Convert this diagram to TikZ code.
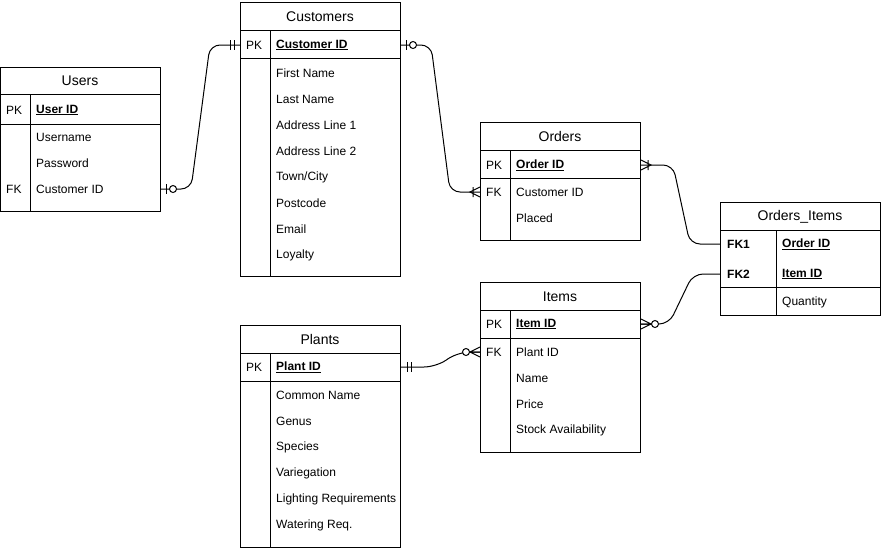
\documentclass[tikz,border=0pt]{standalone}
\usepackage{fontspec}
\setmainfont{Liberation Sans}

\tikzset{
  tbl/.style={draw, line width=1pt, inner sep=0pt, anchor=north west, minimum width=160pt},
  ttl/.style={font=\fontsize{14}{16}\selectfont, yshift=-0.5pt},
  fld/.style={anchor=west, inner sep=0pt, font=\fontsize{12}{14}\selectfont, yshift=-1pt},
  link/.style={line width=1pt, rounded corners=10pt},
  mone/.pic={\draw[line width=1pt] (6,-5) -- (6,5) (10,-5) -- (10,5);},
  zone/.pic={\draw[line width=1pt] (5,-5) -- (5,5);
    \draw[line width=1pt, fill=white] (12,0) circle (3.5pt);},
  omany/.pic={\draw[line width=1pt] (0,-5) -- (10,0) -- (0,5) (7,-5) -- (7,5);},
  zmany/.pic={\draw[line width=1pt] (0,-5) -- (10,0) -- (0,5) (0,0) -- (10,0);
    \draw[line width=1pt, fill=white] (14,0) circle (3.5pt);}
}
\newcommand{\keyf}[1]{\underline{\textbf{#1}}}

\begin{document}
\begin{tikzpicture}[x=1pt,y=-1pt]
\useasboundingbox (0,0) rectangle (882,552);

% Users
\node[tbl, minimum height=144pt] (users) at (0,67) {};
\draw[line width=1pt] (0,94) -- (160,94) (0,124) -- (160,124) (30,94) -- (30,211);
\node[ttl] at (80,80.5) {Users};
\node[fld] at (6,109) {PK};
\node[fld] (u-uid) at (36,109) {\keyf{User ID}};
\node[fld] at (36,136) {Username};
\node[fld] at (36,162) {Password};
\node[fld] at (6,188) {FK};
\node[fld] (u-cid) at (36,188) {Customer ID};

% Customers
\node[tbl, minimum height=274pt] (customers) at (240,2) {};
\draw[line width=1pt] (240,30) -- (400,30) (240,58) -- (400,58) (270,30) -- (270,276);
\node[ttl] at (320,16) {Customers};
\node[fld] at (246,44) {PK};
\node[fld] (c-cid) at (276,44) {\keyf{Customer ID}};
\node[fld] at (276,72) {First Name};
\node[fld] at (276,98) {Last Name};
\node[fld] at (276,124) {Address Line 1};
\node[fld] at (276,150) {Address Line 2};
\node[fld] at (276,176) {Town/City};
\node[fld] at (276,202) {Postcode};
\node[fld] at (276,228) {Email};
\node[fld] at (276,254) {Loyalty};

% Orders
\node[tbl, minimum height=118pt] (orders) at (480,122) {};
\draw[line width=1pt] (480,150) -- (640,150) (480,178) -- (640,178) (510,150) -- (510,240);
\node[ttl] at (560,136) {Orders};
\node[fld] at (486,164) {PK};
\node[fld] (o-oid) at (516,164) {\keyf{Order ID}};
\node[fld] at (486,191) {FK};
\node[fld] (o-cid) at (516,191) {Customer ID};
\node[fld] at (516,217) {Placed};

% Orders_Items
\node[tbl, minimum height=113pt] (oi) at (720,202) {};
\draw[line width=1pt] (720,230) -- (880,230) (720,287) -- (880,287) (776,230) -- (776,315);
\node[ttl] at (800,216) {Orders\_Items};
\node[fld] at (727,243) {\textbf{FK1}};
\node[fld] (oi-oid) at (782,243) {\keyf{Order ID}};
\node[fld] at (727,273) {\textbf{FK2}};
\node[fld] (oi-iid) at (782,273) {\keyf{Item ID}};
\node[fld] at (782,301) {Quantity};

% Items
\node[tbl, minimum height=170pt] (items) at (480,282) {};
\draw[line width=1pt] (480,310) -- (640,310) (480,338) -- (640,338) (510,310) -- (510,452);
\node[ttl] at (560,296) {Items};
\node[fld] at (486,323) {PK};
\node[fld] (i-iid) at (516,323) {\keyf{Item ID}};
\node[fld] at (486,351) {FK};
\node[fld] (i-pid) at (516,351) {Plant ID};
\node[fld] at (516,377) {Name};
\node[fld] at (516,403) {Price};
\node[fld] at (516,429) {Stock Availability};

% Plants
\node[tbl, minimum height=222pt] (plants) at (240,325) {};
\draw[line width=1pt] (240,353) -- (400,353) (240,381) -- (400,381) (270,353) -- (270,547);
\node[ttl] at (320,339) {Plants};
\node[fld] at (246,366) {PK};
\node[fld] (p-pid) at (276,366) {\keyf{Plant ID}};
\node[fld] at (276,394) {Common Name};
\node[fld] at (276,420) {Genus};
\node[fld] at (276,446) {Species};
\node[fld] at (276,472) {Variegation};
\node[fld] at (276,498) {Lighting Requirements};
\node[fld] at (276,524) {Watering Req.};

% relations
\draw[link] (users.east |- u-cid) -- ++(30,0) -- ([xshift=-30pt]customers.west |- c-cid) -- (customers.west |- c-cid);
\draw[link] (customers.east |- c-cid) -- ++(30,0) -- ([xshift=-30pt]orders.west |- o-cid) -- (orders.west |- o-cid);
\draw[link] (orders.east |- o-oid) -- ++(32,0) -- ([xshift=-30pt]oi.west |- oi-oid) -- (oi.west |- oi-oid);
\draw[link] (items.east |- i-iid) -- ++(28,0) -- ([xshift=-27pt]oi.west |- oi-iid) -- (oi.west |- oi-iid);
\draw[link, rounded corners=12pt] (plants.east |- p-pid) -- ++(35,0) -- ([xshift=-22pt]items.west |- i-pid) -- (items.west |- i-pid);

\pic at (users.east |- u-cid) {zone};
\pic[xscale=-1] at (customers.west |- c-cid) {mone};
\pic at (customers.east |- c-cid) {zone};
\pic[xscale=-1] at (orders.west |- o-cid) {omany};
\pic at (orders.east |- o-oid) {omany};
\pic at (items.east |- i-iid) {zmany};
\pic at (plants.east |- p-pid) {mone};
\pic[xscale=-1] at (items.west |- i-pid) {zmany};
\end{tikzpicture}
\end{document}
